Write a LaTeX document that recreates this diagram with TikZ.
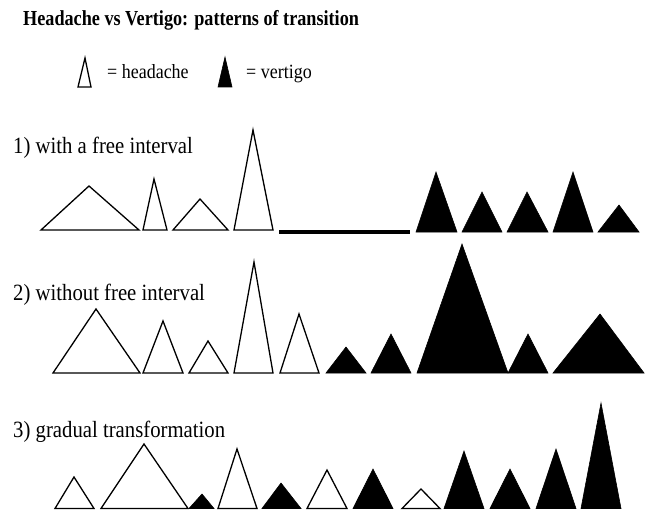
\documentclass[tikz,border=0pt]{standalone}
\usepackage{fontspec}
\setmainfont{Liberation Serif}
\newfontfamily\labelfont[FakeStretch=0.89]{Liberation Serif}
\newfontfamily\titlefont[FakeStretch=0.85]{Liberation Serif}

\tikzset{
  headache/.style={draw=black, fill=white, line width=1.3pt, line join=miter},
  vertigo/.style={draw=black, fill=black, line width=0.6pt},
  rowlabel/.style={anchor=base west, inner sep=0pt, font=\labelfont\fontsize{23.3}{25}\selectfont}
}

\begin{document}
\begin{tikzpicture}[x=1pt, y=-1pt]
        % 画布
        \useasboundingbox (0,0) rectangle (645,513);
        % 标题
        \node[rowlabel, font=\titlefont\bfseries\fontsize{21.4}{23}\selectfont] (title) at (23,26)
          {Headache vs Vertigo: patterns of transition};
        % 图例
        \draw[headache] (78,87) -- (85,58) -- (91,87) -- cycle;
        \node[rowlabel, font=\labelfont\fontsize{20.2}{22}\selectfont] (lgh) at (107,79) {= headache};
        \draw[vertigo] (218,87) -- (225,57) -- (232,87) -- cycle;
        \node[rowlabel, font=\labelfont\fontsize{20.2}{22}\selectfont] (lgv) at (246,79) {= vertigo};
        % 第一行：有间歇期
        \node[rowlabel] (row1) at (13,154) {1) with a free interval};
        \foreach \l/\m/\r/\t in {41/89/139/186, 143/154/167/179, 173/200/228/199, 234/253/273/130}
          \draw[headache] (\l,230) -- (\m,\t) -- (\r,230) -- cycle;
        \draw[line width=4pt] (279,231.5) -- (410,231.5);
        \foreach \l/\m/\r/\t in {416/436/457/172, 462/482/502/192, 507/527/548/192,
                                 553/573/593/172, 598/619/639/205}
          \draw[vertigo] (\l,232) -- (\m,\t) -- (\r,232) -- cycle;
        % 第二行：无间歇期
        \node[rowlabel] (row2) at (13,300) {2) without free interval};
        \foreach \l/\m/\r/\t in {53/96/140/309, 143/163/183/321, 189/208/228/341,
                                 234/254/273/262, 280/299/319/314}
          \draw[headache] (\l,373) -- (\m,\t) -- (\r,373) -- cycle;
        \foreach \l/\m/\r/\t in {326/346/366/347, 371/391/411/334, 417/462/508/244,
                                 508/528/548/334, 553/600/644/314}
          \draw[vertigo] (\l,373) -- (\m,\t) -- (\r,373) -- cycle;
        % 第三行：逐渐转变
        \node[rowlabel] (row3) at (13,437) {3) gradual transformation};
        \foreach \l/\m/\r/\t in {55/74/94/477, 101/144/188/444, 218/237/257/449,
                                 307/327/347/470, 402/421/440/489}
          \draw[headache] (\l,508.5) -- (\m,\t) -- (\r,508.5) -- cycle;
        \foreach \l/\m/\r/\t in {189/202/214/494, 262/281/301/483, 353/373/393/469,
                                 444/464/484/451, 490/510/530/469, 536/556/576/449, 581/601/621/403}
          \draw[vertigo] (\l,508.5) -- (\m,\t) -- (\r,508.5) -- cycle;
      \end{tikzpicture}
\end{document}
